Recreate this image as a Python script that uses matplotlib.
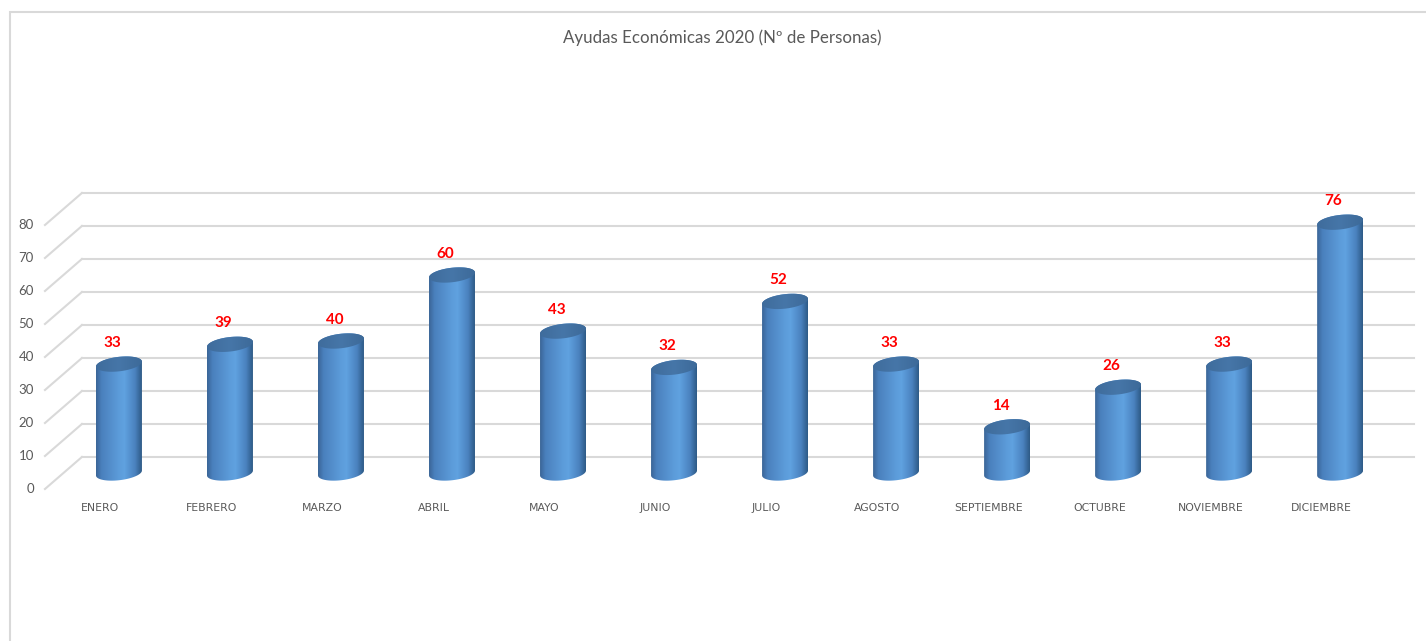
import numpy as np
import matplotlib
matplotlib.use("Agg")
import matplotlib.pyplot as plt
from matplotlib.colors import LinearSegmentedColormap
from matplotlib.patches import Polygon, Rectangle

meses = ["ENERO", "FEBRERO", "MARZO", "ABRIL", "MAYO", "JUNIO", "JULIO",
         "AGOSTO", "SEPTIEMBRE", "OCTUBRE", "NOVIEMBRE", "DICIEMBRE"]
personas = [33, 39, 40, 60, 43, 32, 52, 33, 14, 26, 33, 76]
yticks = [0, 10, 20, 30, 40, 50, 60, 70, 80]
titulo = "Ayudas Económicas 2020 (Nº de Personas)"

# depth offset of the back wall (oblique 3d look), in data units
dx, dy = 0.333, 9.7
a, b, k = 0.207, 2.2, 3.6   # cylinder half width, ellipse half height, tilt

cuerpo = LinearSegmentedColormap.from_list(
    "cil", [(0, "#3a6596"), (0.12, "#4a80bd"), (0.5, "#5c9cda"),
            (0.62, "#60a2e0"), (0.85, "#4a82bf"), (1, "#2e5a86")])
tapa = LinearSegmentedColormap.from_list(
    "tapa", [(0, "#3f6c9c"), (0.5, "#4676a8"), (1, "#3d6a99")])

fig = plt.figure(figsize=(14.26, 6.41), dpi=100)
ax = fig.add_axes([0, 0, 1, 1])
ax.axis("off")

# chart frame
fig.patches.append(Rectangle((10 / 1426, -0.1), 1.2, 1.1 - 12 / 641,
                             transform=fig.transFigure, fill=False,
                             edgecolor="#d9d9d9", lw=1.5))

fig.text(722 / 1426, 1 - 38 / 641, titulo, ha="center", va="center",
         fontsize=12.2, color="#595959", family="Lato")

# walls
x0, x1 = -0.5, len(meses) - 0.5
for v in yticks:
    ax.plot([x0 + dx, x1 + dx], [v + dy, v + dy], color="#d9d9d9", lw=1.5, zorder=1)
    ax.plot([x0, x0 + dx], [v, v + dy], color="#d9d9d9", lw=1.5, zorder=1)
    ax.text(x0 - 0.1, v, str(v), ha="right", va="center", fontsize=9.5,
            color="#595959", family="Lato")

def elipse(cx, cy, lo, hi):
    tt = np.linspace(lo, hi, 50)
    return np.column_stack([cx + a * np.cos(tt),
                            cy + b * np.sin(tt) + k * a * np.cos(tt)])

grad = np.linspace(0, 1, 256).reshape(1, -1)
for i, (mes, v) in enumerate(zip(meses, personas)):
    cx = i + dx / 2
    y0 = dy / 2
    y1 = v + dy / 2
    # body outline: bottom lower arc, then top upper arc
    contorno = np.vstack([elipse(cx, y0, np.pi, 2 * np.pi),
                          elipse(cx, y1, 0, np.pi)])
    clip = Polygon(contorno, closed=True, facecolor="none", edgecolor="none")
    ax.add_patch(clip)
    im = ax.imshow(grad, cmap=cuerpo, aspect="auto", interpolation="bilinear",
                   extent=(cx - a, cx + a, y0 - 3 * b, y1 + 3 * b), zorder=3)
    im.set_clip_path(clip)
    # top cap
    cap = Polygon(elipse(cx, y1, 0, 2 * np.pi), closed=True,
                  facecolor="none", edgecolor="none")
    ax.add_patch(cap)
    im2 = ax.imshow(grad, cmap=tapa, aspect="auto", interpolation="bilinear",
                    extent=(cx - a, cx + a, y1 - 2 * b, y1 + 2 * b), zorder=4)
    im2.set_clip_path(cap)
    ax.text(cx - 0.06, y1 + 6.4, str(v), ha="center", va="center",
            fontsize=11, fontweight="bold", color="#ff0000", family="Lato", zorder=5)
    ax.text(i, -5.8, mes, ha="center", va="center", fontsize=7.8,
            color="#595959", family="Liberation Sans Narrow")

ax.set_xlim(-0.905, 11.94)
ax.set_ylim(-46.06, 148.18)
fig.savefig("out.png", dpi=100)
